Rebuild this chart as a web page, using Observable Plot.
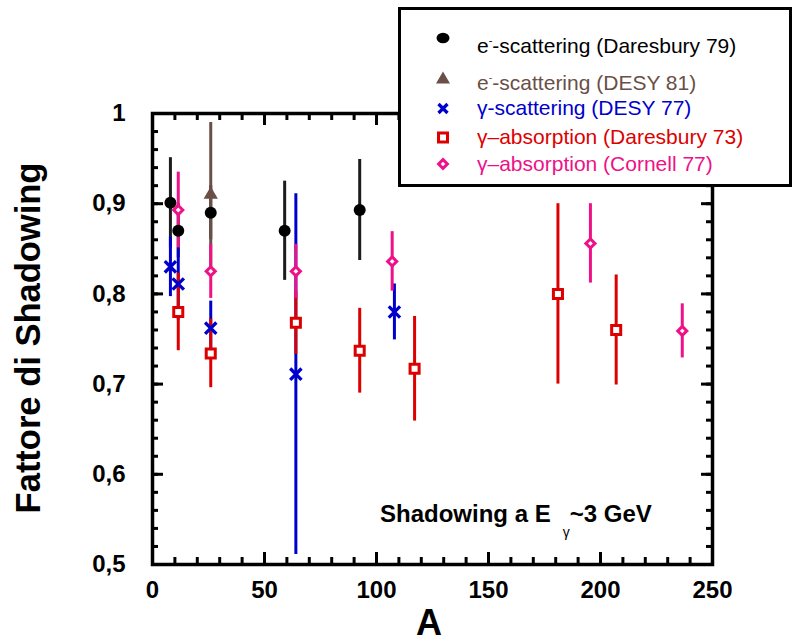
<!DOCTYPE html>
<html><head><meta charset="utf-8">
<script src="https://cdn.jsdelivr.net/npm/d3@7"></script>
<script src="https://cdn.jsdelivr.net/npm/@observablehq/plot@0.6"></script>
<style>
body{margin:0;background:#fff;}
#wrap{position:relative;width:797px;height:642px;font-family:"Liberation Sans",Arial,sans-serif;}
#wrap svg.overlay{position:absolute;left:0;top:0;pointer-events:none;}
</style></head><body><div id="wrap"></div>
<script>
// ---- data ----
const seriesNames = ["e⁻-scattering (Daresbury 79)", "e⁻-scattering (DESY 81)", "γ-scattering (DESY 77)", "γ–absorption (Daresbury 73)", "γ–absorption (Cornell 77)"];

const eDaresA   = [8, 11.5, 26, 59, 92.5];
const eDaresV   = [0.901, 0.870, 0.890, 0.870, 0.893];
const eDaresErr = [0.050, 0.030, 0.030, 0.055, 0.056];

const eDesyA   = [26];
const eDesyV   = [0.910];
const eDesyErr = [0.080];

const gScatA   = [8, 11.5, 26, 64, 108];
const gScatV   = [0.830, 0.811, 0.762, 0.711, 0.780];
const gScatErr = [0.033, 0.040, 0.030, 0.200, 0.031];

const gAbsDA   = [11.5, 26, 64, 92.5, 117, 181, 207];
const gAbsDV   = [0.780, 0.734, 0.768, 0.737, 0.717, 0.800, 0.760];
const gAbsDErr = [0.043, 0.038, 0.035, 0.047, 0.058, 0.100, 0.061];

const gAbsCA   = [11.5, 26, 64, 107, 195.5, 236.5];
const gAbsCV   = [0.893, 0.825, 0.825, 0.836, 0.856, 0.759];
const gAbsCErr = [0.042, 0.030, 0.030, 0.033, 0.044, 0.030];

const xMajorTicks = [0, 50, 100, 150, 200, 250];
const xMinorTicks = [0, 10, 20, 30, 40, 50, 60, 70, 80, 90, 100, 110, 120, 130, 140, 150, 160, 170, 180, 190, 200, 210, 220, 230, 240, 250];
const yMajorTicks = [0.5, 0.6, 0.7, 0.8, 0.9, 1.0];
const yMinorTicks = [0.5,0.52,0.54,0.56,0.58,0.6,0.62,0.64,0.66,0.68,0.7,0.72,0.74,0.76,0.78,0.8,0.82,0.84,0.86,0.88,0.9,0.92,0.94,0.96,0.98,1.0];

// ---- build rows ----
const mk = (A, V, E) => A.map((a, i) => ({A: a, v: V[i], e: E[i]}));
const sBlack = mk(eDaresA, eDaresV, eDaresErr);
const sBrown = mk(eDesyA, eDesyV, eDesyErr);
const sBlue  = mk(gScatA, gScatV, gScatErr);
const sRed   = mk(gAbsDA, gAbsDV, gAbsDErr);
const sPink  = mk(gAbsCA, gAbsCV, gAbsCErr);

const C = {black: "#000000", bar: "#1c1c1c", brown: "#6a4f47", blue: "#0000cc", red: "#dd0000", pink: "#ee1188"};

const fmtY = d => d === 1 ? "1" : d3.format(".1f")(d).replace(".", ",");

const W = 797, H = 642, mT = 113, mL = 152, mR = 85, mB = 78;
const fW = W - mL - mR, fH = H - mT - mB;

const bars = (data, color) => Plot.ruleX(data, {x: "A", y1: d => d.v - d.e, y2: d => d.v + d.e, stroke: color, strokeWidth: 3});
const xTicks = (vals, len) => [
  Plot.tickX(vals, {x: d => d, insetTop: fH - len, stroke: "#000", strokeWidth: 3}),
  Plot.tickX(vals, {x: d => d, insetBottom: fH - len, stroke: "#000", strokeWidth: 3})
];
const yTicks = (vals, len) => [
  Plot.tickY(vals, {y: d => d, insetRight: fW - len, stroke: "#000", strokeWidth: 3}),
  Plot.tickY(vals, {y: d => d, insetLeft: fW - len, stroke: "#000", strokeWidth: 3})
];

const chart = Plot.plot({
  width: W, height: H,
  marginTop: mT, marginLeft: mL, marginRight: mR, marginBottom: mB,
  x: {domain: [0, 250]},
  y: {domain: [0.5, 1.0]},
  style: {fontFamily: "'Liberation Sans', Arial, sans-serif", color: "#000", background: "#fff", overflow: "visible"},
  marks: [
    ...xTicks(xMinorTicks, 7),
    ...xTicks(xMajorTicks, 12),
    ...yTicks(yMinorTicks, 6),
    ...yTicks(yMajorTicks, 11),
    // tick labels
    Plot.axisX(xMajorTicks, {anchor: "bottom", tickSize: 0, tickPadding: 16, tickFormat: d => String(d), fontSize: 24, fontWeight: "bold", label: null}),
    Plot.axisY(yMajorTicks, {anchor: "left", tickSize: 0, tickPadding: 27, tickFormat: fmtY, fontSize: 24, fontWeight: "bold", label: null}),
    Plot.frame({stroke: "#000", strokeWidth: 3.5}),
    // error bars
    bars(sBlack, C.bar),
    bars(sBrown, C.brown),
    bars(sBlue, C.blue),
    bars(sRed, C.red),
    bars(sPink, C.pink),
    // markers
    Plot.dot(sBlack, {x: "A", y: "v", r: 6, fill: C.black}),
    Plot.dot(sBrown, {x: "A", y: "v", r: 5.3, symbol: "triangle", fill: C.brown}),
    Plot.dot(sBlue, {x: "A", y: "v", r: 5.2, symbol: "times", stroke: C.blue, strokeWidth: 3.3}),
    Plot.dot(sRed, {x: "A", y: "v", r: 5.1, symbol: "square", fill: "#fff", stroke: C.red, strokeWidth: 3}),
    Plot.dot(sPink, {x: "A", y: "v", r: 4.1, symbol: "diamond2", fill: "#fff", stroke: C.pink, strokeWidth: 3})
  ]
});

const wrap = document.getElementById("wrap");
wrap.appendChild(chart);

// ---- overlay: axis titles, annotation, legend ----
const legendRows = [
  {name: seriesNames[0], color: C.black, my: 38, ty: 53},
  {name: seriesNames[1], color: C.brown, my: 78, ty: 90},
  {name: seriesNames[2], color: C.blue, my: 108.5, ty: 115},
  {name: seriesNames[3], color: C.red, my: 137.5, ty: 143.5},
  {name: seriesNames[4], color: C.pink, my: 164, ty: 171}
];
const sym = (i, y, c) => {
  const x = 443;
  if (i === 0) return `<ellipse cx="${x}" cy="${y}" rx="6.5" ry="5.2" fill="${c}"/>`;
  if (i === 1) return `<path d="M${x},${y-6.5}L${x+7},${y+5.5}L${x-7},${y+5.5}Z" fill="${c}"/>`;
  if (i === 2) return `<path d="M${x-4.5},${y-4.5}L${x+4.5},${y+4.5}M${x+4.5},${y-4.5}L${x-4.5},${y+4.5}" stroke="${c}" stroke-width="3.3"/>`;
  if (i === 3) return `<rect x="${x-4.5}" y="${y-4.5}" width="9" height="9" fill="#fff" stroke="${c}" stroke-width="3"/>`;
  return `<path d="M${x},${y-4.4}L${x+4.4},${y}L${x},${y+4.4}L${x-4.4},${y}Z" fill="#fff" stroke="${c}" stroke-width="3"/>`;
};
const labelHTML = (name) => {
  if (name.startsWith("e⁻")) return `e<tspan font-size="11" dy="-9">-</tspan><tspan dy="9">${name.slice(2)}</tspan>`;
  return name;
};
const ns = "http://www.w3.org/2000/svg";
const ov = document.createElementNS(ns, "svg");
ov.setAttribute("class", "overlay");
ov.setAttribute("width", W);
ov.setAttribute("height", H);
ov.setAttribute("font-family", "'Liberation Sans', Arial, sans-serif");
ov.innerHTML = `
  <text transform="translate(40,338) rotate(-90)" text-anchor="middle" font-size="34.5" font-weight="bold" fill="#000">Fattore di Shadowing</text>
  <text x="429" y="635" text-anchor="middle" font-size="36" font-weight="bold" fill="#000">A</text>
  <text x="380" y="522" font-size="24" font-weight="bold" fill="#000">Shadowing a E<tspan font-size="14" font-weight="normal" dx="12" dy="15">γ</tspan><tspan dy="-15" dx="0">~3 GeV</tspan></text>
  <rect x="399.5" y="8.5" width="391" height="177" fill="#fff" stroke="#000" stroke-width="3"/>
  ${legendRows.map((r, i) => sym(i, r.my, r.color) + `<text x="477" y="${r.ty}" font-size="21" fill="${r.color}">${labelHTML(r.name)}</text>`).join("")}
`;
wrap.appendChild(ov);
</script>
</body></html>
